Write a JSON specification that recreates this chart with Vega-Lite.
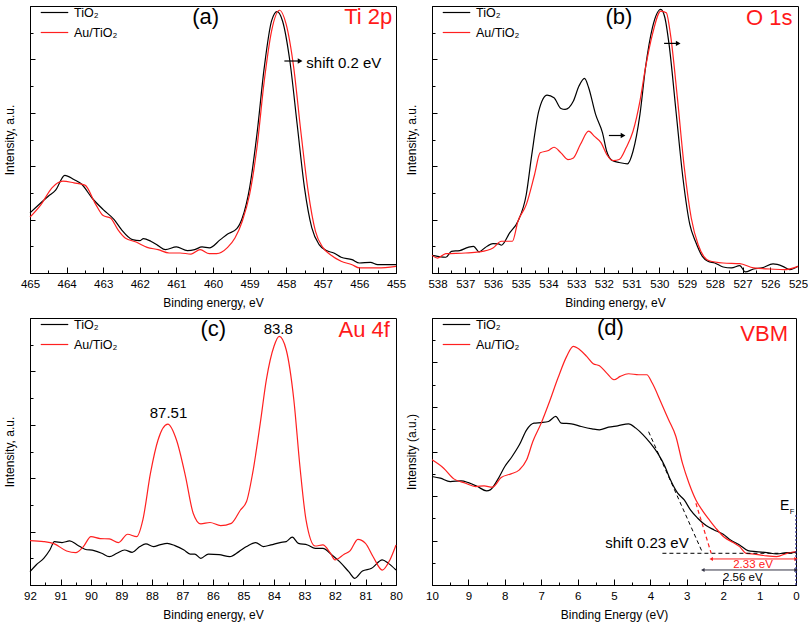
{
  "$schema": "https://vega.github.io/schema/vega-lite/v6.json",
  "padding": {"left": 3, "top": 5, "right": 5, "bottom": 5},
  "background": "white",
  "columns": 2,
  "spacing": {"row": 45, "column": 36},
  "bounds": "flush",
  "resolve": {"scale": {"color": "independent"}, "legend": {"color": "independent"}},
  "config": {
    "font": "Liberation Sans",
    "view": {"stroke": "black", "strokeWidth": 1},
    "axis": {"grid": false, "domainColor": "black", "tickColor": "black", "labelColor": "black", "titleColor": "black", "labelFontSize": 11.5, "titleFontSize": 12, "titleFontWeight": "normal", "labelFont": "Liberation Sans", "titleFont": "Liberation Sans", "labelFlush": false, "labelOverlap": false, "labelPadding": 11, "titlePadding": 8},
    "axisY": {"titlePadding": 13},
    "legend": {"orient": "none", "legendX": 18, "legendY": 0, "symbolType": "M-2.5,0H2.5", "symbolSize": 121, "symbolStrokeWidth": 1.2, "labelFontSize": 12.5, "labelFont": "Liberation Sans", "labelColor": "black", "rowPadding": 7, "padding": 0, "labelOffset": 13}
  },
  "datasets": {
    "a": [
      {"x":465,"y":22.5,"s":"TiO₂"},{"x":464.5,"y":28.75,"s":"TiO₂"},{"x":464.3,"y":31,"s":"TiO₂"},{"x":464.05,"y":36.6,"s":"TiO₂"},{"x":463.8,"y":35,"s":"TiO₂"},{"x":463.6,"y":33.4,"s":"TiO₂"},{"x":463.3,"y":28,"s":"TiO₂"},{"x":463.0,"y":23.75,"s":"TiO₂"},{"x":462.7,"y":20,"s":"TiO₂"},{"x":462.5,"y":16.25,"s":"TiO₂"},{"x":462.2,"y":12.5,"s":"TiO₂"},{"x":462.0,"y":12.1,"s":"TiO₂"},{"x":461.9,"y":12.9,"s":"TiO₂"},{"x":461.7,"y":11.9,"s":"TiO₂"},{"x":461.5,"y":10.25,"s":"TiO₂"},{"x":461.3,"y":8.75,"s":"TiO₂"},{"x":461.0,"y":9.75,"s":"TiO₂"},{"x":460.7,"y":8.4,"s":"TiO₂"},{"x":460.5,"y":8.75,"s":"TiO₂"},{"x":460.3,"y":9.75,"s":"TiO₂"},{"x":460.1,"y":9.4,"s":"TiO₂"},{"x":459.8,"y":12.5,"s":"TiO₂"},{"x":459.6,"y":14.6,"s":"TiO₂"},{"x":459.35,"y":16.6,"s":"TiO₂"},{"x":459.2,"y":20.6,"s":"TiO₂"},{"x":459.0,"y":31.9,"s":"TiO₂"},{"x":458.8,"y":51.9,"s":"TiO₂"},{"x":458.6,"y":76.9,"s":"TiO₂"},{"x":458.4,"y":94.4,"s":"TiO₂"},{"x":458.25,"y":97.9,"s":"TiO₂"},{"x":458.1,"y":94.4,"s":"TiO₂"},{"x":457.9,"y":79.4,"s":"TiO₂"},{"x":457.7,"y":55.6,"s":"TiO₂"},{"x":457.5,"y":31.9,"s":"TiO₂"},{"x":457.3,"y":16.9,"s":"TiO₂"},{"x":457.1,"y":10.6,"s":"TiO₂"},{"x":456.9,"y":8.4,"s":"TiO₂"},{"x":456.7,"y":7.5,"s":"TiO₂"},{"x":456.5,"y":5.9,"s":"TiO₂"},{"x":456.2,"y":5,"s":"TiO₂"},{"x":456.0,"y":3.75,"s":"TiO₂"},{"x":455.7,"y":4,"s":"TiO₂"},{"x":455.5,"y":3.1,"s":"TiO₂"},{"x":455.0,"y":3.1,"s":"TiO₂"},
      {"x":465,"y":20.9,"s":"Au/TiO₂"},{"x":464.7,"y":25.6,"s":"Au/TiO₂"},{"x":464.4,"y":31.9,"s":"Au/TiO₂"},{"x":464.1,"y":34.4,"s":"Au/TiO₂"},{"x":463.8,"y":33.75,"s":"Au/TiO₂"},{"x":463.5,"y":32.9,"s":"Au/TiO₂"},{"x":463.2,"y":25.6,"s":"Au/TiO₂"},{"x":463.0,"y":21.5,"s":"Au/TiO₂"},{"x":462.8,"y":20.6,"s":"Au/TiO₂"},{"x":462.6,"y":16.25,"s":"Au/TiO₂"},{"x":462.4,"y":13.1,"s":"Au/TiO₂"},{"x":462.1,"y":11.6,"s":"Au/TiO₂"},{"x":461.8,"y":9.6,"s":"Au/TiO₂"},{"x":461.5,"y":8.75,"s":"Au/TiO₂"},{"x":461.2,"y":7.5,"s":"Au/TiO₂"},{"x":460.9,"y":7.5,"s":"Au/TiO₂"},{"x":460.6,"y":7.1,"s":"Au/TiO₂"},{"x":460.35,"y":8.75,"s":"Au/TiO₂"},{"x":460.1,"y":7.25,"s":"Au/TiO₂"},{"x":459.9,"y":7.25,"s":"Au/TiO₂"},{"x":459.6,"y":9.6,"s":"Au/TiO₂"},{"x":459.4,"y":13.1,"s":"Au/TiO₂"},{"x":459.2,"y":19.4,"s":"Au/TiO₂"},{"x":459.0,"y":29.4,"s":"Au/TiO₂"},{"x":458.8,"y":46.9,"s":"Au/TiO₂"},{"x":458.6,"y":71.9,"s":"Au/TiO₂"},{"x":458.4,"y":90.6,"s":"Au/TiO₂"},{"x":458.18,"y":98.4,"s":"Au/TiO₂"},{"x":458.0,"y":93.1,"s":"Au/TiO₂"},{"x":457.8,"y":77.5,"s":"Au/TiO₂"},{"x":457.6,"y":53,"s":"Au/TiO₂"},{"x":457.4,"y":30.6,"s":"Au/TiO₂"},{"x":457.2,"y":15.6,"s":"Au/TiO₂"},{"x":457.0,"y":9.6,"s":"Au/TiO₂"},{"x":456.8,"y":6.9,"s":"Au/TiO₂"},{"x":456.5,"y":4.4,"s":"Au/TiO₂"},{"x":456.2,"y":3.1,"s":"Au/TiO₂"},{"x":456.0,"y":1.9,"s":"Au/TiO₂"},{"x":455.5,"y":1.9,"s":"Au/TiO₂"},{"x":455.0,"y":2.5,"s":"Au/TiO₂"}
    ],
    "b": [
      {"x":538.2,"y":6.6,"s":"TiO₂"},{"x":538,"y":6.25,"s":"TiO₂"},{"x":537.7,"y":5.9,"s":"TiO₂"},{"x":537.5,"y":8.1,"s":"TiO₂"},{"x":537.2,"y":8.4,"s":"TiO₂"},{"x":536.9,"y":9.6,"s":"TiO₂"},{"x":536.7,"y":10,"s":"TiO₂"},{"x":536.5,"y":7.9,"s":"TiO₂"},{"x":536.3,"y":9.4,"s":"TiO₂"},{"x":536.0,"y":11,"s":"TiO₂"},{"x":535.8,"y":10.9,"s":"TiO₂"},{"x":535.7,"y":10.4,"s":"TiO₂"},{"x":535.4,"y":15,"s":"TiO₂"},{"x":535.1,"y":19.4,"s":"TiO₂"},{"x":534.8,"y":29.4,"s":"TiO₂"},{"x":534.6,"y":44.4,"s":"TiO₂"},{"x":534.35,"y":60.6,"s":"TiO₂"},{"x":534.05,"y":66.6,"s":"TiO₂"},{"x":533.8,"y":65.6,"s":"TiO₂"},{"x":533.55,"y":61.6,"s":"TiO₂"},{"x":533.4,"y":61.25,"s":"TiO₂"},{"x":533.1,"y":64.4,"s":"TiO₂"},{"x":532.9,"y":70,"s":"TiO₂"},{"x":532.7,"y":72.9,"s":"TiO₂"},{"x":532.55,"y":69.4,"s":"TiO₂"},{"x":532.3,"y":59.4,"s":"TiO₂"},{"x":532.05,"y":52.5,"s":"TiO₂"},{"x":531.9,"y":45.6,"s":"TiO₂"},{"x":531.7,"y":42.1,"s":"TiO₂"},{"x":531.45,"y":41.4,"s":"TiO₂"},{"x":531.15,"y":40.9,"s":"TiO₂"},{"x":530.95,"y":45.6,"s":"TiO₂"},{"x":530.7,"y":59.4,"s":"TiO₂"},{"x":530.5,"y":76.9,"s":"TiO₂"},{"x":530.25,"y":91.9,"s":"TiO₂"},{"x":529.95,"y":98.75,"s":"TiO₂"},{"x":529.8,"y":95.6,"s":"TiO₂"},{"x":529.65,"y":85.6,"s":"TiO₂"},{"x":529.4,"y":60.6,"s":"TiO₂"},{"x":529.15,"y":35.6,"s":"TiO₂"},{"x":528.9,"y":18.1,"s":"TiO₂"},{"x":528.7,"y":11.9,"s":"TiO₂"},{"x":528.45,"y":6.25,"s":"TiO₂"},{"x":528.25,"y":4.4,"s":"TiO₂"},{"x":528.0,"y":3.75,"s":"TiO₂"},{"x":527.7,"y":2.25,"s":"TiO₂"},{"x":527.4,"y":1.9,"s":"TiO₂"},{"x":527.1,"y":2.75,"s":"TiO₂"},{"x":526.9,"y":0.4,"s":"TiO₂"},{"x":526.6,"y":1.5,"s":"TiO₂"},{"x":526.3,"y":1.9,"s":"TiO₂"},{"x":525.9,"y":3.4,"s":"TiO₂"},{"x":525.55,"y":2.5,"s":"TiO₂"},{"x":525.3,"y":1.25,"s":"TiO₂"},{"x":525.0,"y":2.5,"s":"TiO₂"},
      {"x":538.2,"y":6.6,"s":"Au/TiO₂"},{"x":538,"y":5.6,"s":"Au/TiO₂"},{"x":537.7,"y":7.25,"s":"Au/TiO₂"},{"x":537,"y":7.5,"s":"Au/TiO₂"},{"x":536.5,"y":7.9,"s":"Au/TiO₂"},{"x":536,"y":9.4,"s":"Au/TiO₂"},{"x":535.7,"y":11.9,"s":"Au/TiO₂"},{"x":535.3,"y":11.9,"s":"Au/TiO₂"},{"x":535.1,"y":19.4,"s":"Au/TiO₂"},{"x":534.8,"y":25.6,"s":"Au/TiO₂"},{"x":534.5,"y":36.9,"s":"Au/TiO₂"},{"x":534.3,"y":45,"s":"Au/TiO₂"},{"x":534.0,"y":45.9,"s":"Au/TiO₂"},{"x":533.8,"y":47.1,"s":"Au/TiO₂"},{"x":533.55,"y":45,"s":"Au/TiO₂"},{"x":533.3,"y":42.5,"s":"Au/TiO₂"},{"x":533.1,"y":43.1,"s":"Au/TiO₂"},{"x":532.85,"y":48.1,"s":"Au/TiO₂"},{"x":532.55,"y":53.1,"s":"Au/TiO₂"},{"x":532.35,"y":51.25,"s":"Au/TiO₂"},{"x":532.1,"y":48.75,"s":"Au/TiO₂"},{"x":531.9,"y":44.4,"s":"Au/TiO₂"},{"x":531.65,"y":42.1,"s":"Au/TiO₂"},{"x":531.45,"y":42.5,"s":"Au/TiO₂"},{"x":531.2,"y":46.9,"s":"Au/TiO₂"},{"x":530.95,"y":53.1,"s":"Au/TiO₂"},{"x":530.7,"y":64.4,"s":"Au/TiO₂"},{"x":530.5,"y":76.9,"s":"Au/TiO₂"},{"x":530.25,"y":89.4,"s":"Au/TiO₂"},{"x":529.95,"y":98.1,"s":"Au/TiO₂"},{"x":529.75,"y":97.5,"s":"Au/TiO₂"},{"x":529.6,"y":89.4,"s":"Au/TiO₂"},{"x":529.35,"y":65.6,"s":"Au/TiO₂"},{"x":529.1,"y":39.4,"s":"Au/TiO₂"},{"x":528.85,"y":20.6,"s":"Au/TiO₂"},{"x":528.6,"y":10.6,"s":"Au/TiO₂"},{"x":528.4,"y":6.25,"s":"Au/TiO₂"},{"x":528.2,"y":4.6,"s":"Au/TiO₂"},{"x":527.7,"y":3.75,"s":"Au/TiO₂"},{"x":527.1,"y":3.5,"s":"Au/TiO₂"},{"x":526.6,"y":1.9,"s":"Au/TiO₂"},{"x":526.0,"y":1.5,"s":"Au/TiO₂"},{"x":525.5,"y":1.25,"s":"Au/TiO₂"},{"x":525.0,"y":2.5,"s":"Au/TiO₂"}
    ],
    "c": [
      {"x":92,"y":5,"s":"TiO₂"},{"x":91.8,"y":7.5,"s":"TiO₂"},{"x":91.55,"y":10,"s":"TiO₂"},{"x":91.35,"y":13.1,"s":"TiO₂"},{"x":91.2,"y":16.25,"s":"TiO₂"},{"x":90.95,"y":15.9,"s":"TiO₂"},{"x":90.7,"y":16.5,"s":"TiO₂"},{"x":90.45,"y":15,"s":"TiO₂"},{"x":90.2,"y":13.4,"s":"TiO₂"},{"x":89.9,"y":12.9,"s":"TiO₂"},{"x":89.65,"y":11.9,"s":"TiO₂"},{"x":89.4,"y":10.6,"s":"TiO₂"},{"x":89.15,"y":11.9,"s":"TiO₂"},{"x":88.9,"y":13.1,"s":"TiO₂"},{"x":88.65,"y":12.25,"s":"TiO₂"},{"x":88.4,"y":14.4,"s":"TiO₂"},{"x":88.2,"y":15.4,"s":"TiO₂"},{"x":87.95,"y":14.4,"s":"TiO₂"},{"x":87.75,"y":15,"s":"TiO₂"},{"x":87.5,"y":15.6,"s":"TiO₂"},{"x":87.25,"y":14.75,"s":"TiO₂"},{"x":86.95,"y":13.1,"s":"TiO₂"},{"x":86.75,"y":11.6,"s":"TiO₂"},{"x":86.6,"y":11.6,"s":"TiO₂"},{"x":86.4,"y":10,"s":"TiO₂"},{"x":86.15,"y":11.6,"s":"TiO₂"},{"x":85.8,"y":11.4,"s":"TiO₂"},{"x":85.45,"y":10.6,"s":"TiO₂"},{"x":85.15,"y":12.5,"s":"TiO₂"},{"x":84.9,"y":14.4,"s":"TiO₂"},{"x":84.6,"y":15.9,"s":"TiO₂"},{"x":84.35,"y":14.4,"s":"TiO₂"},{"x":84.1,"y":15,"s":"TiO₂"},{"x":83.8,"y":15.9,"s":"TiO₂"},{"x":83.6,"y":16.25,"s":"TiO₂"},{"x":83.4,"y":17.9,"s":"TiO₂"},{"x":83.2,"y":15.6,"s":"TiO₂"},{"x":82.9,"y":15,"s":"TiO₂"},{"x":82.65,"y":13.75,"s":"TiO₂"},{"x":82.4,"y":13.75,"s":"TiO₂"},{"x":82.1,"y":11.25,"s":"TiO₂"},{"x":81.85,"y":8.75,"s":"TiO₂"},{"x":81.55,"y":5,"s":"TiO₂"},{"x":81.35,"y":2.5,"s":"TiO₂"},{"x":81.1,"y":5.25,"s":"TiO₂"},{"x":80.8,"y":6.25,"s":"TiO₂"},{"x":80.45,"y":9.4,"s":"TiO₂"},{"x":80.25,"y":8.1,"s":"TiO₂"},{"x":80,"y":5.6,"s":"TiO₂"},
      {"x":92,"y":16.6,"s":"Au/TiO₂"},{"x":91.55,"y":16.25,"s":"Au/TiO₂"},{"x":91.2,"y":15.4,"s":"Au/TiO₂"},{"x":90.8,"y":12.75,"s":"Au/TiO₂"},{"x":90.5,"y":12.1,"s":"Au/TiO₂"},{"x":90.25,"y":14.4,"s":"Au/TiO₂"},{"x":90.0,"y":18.1,"s":"Au/TiO₂"},{"x":89.7,"y":17.4,"s":"Au/TiO₂"},{"x":89.4,"y":17.25,"s":"Au/TiO₂"},{"x":89.1,"y":15.9,"s":"Au/TiO₂"},{"x":88.8,"y":19,"s":"Au/TiO₂"},{"x":88.5,"y":18.1,"s":"Au/TiO₂"},{"x":88.3,"y":24.4,"s":"Au/TiO₂"},{"x":88.05,"y":41.9,"s":"Au/TiO₂"},{"x":87.8,"y":54.4,"s":"Au/TiO₂"},{"x":87.48,"y":60.25,"s":"Au/TiO₂"},{"x":87.2,"y":54.4,"s":"Au/TiO₂"},{"x":86.9,"y":40.6,"s":"Au/TiO₂"},{"x":86.65,"y":26.9,"s":"Au/TiO₂"},{"x":86.4,"y":22.9,"s":"Au/TiO₂"},{"x":86.1,"y":23.4,"s":"Au/TiO₂"},{"x":85.75,"y":22.25,"s":"Au/TiO₂"},{"x":85.4,"y":23.1,"s":"Au/TiO₂"},{"x":85.1,"y":28.1,"s":"Au/TiO₂"},{"x":84.9,"y":31.25,"s":"Au/TiO₂"},{"x":84.7,"y":41.9,"s":"Au/TiO₂"},{"x":84.45,"y":60.6,"s":"Au/TiO₂"},{"x":84.25,"y":76.9,"s":"Au/TiO₂"},{"x":84.0,"y":89.4,"s":"Au/TiO₂"},{"x":83.83,"y":93.1,"s":"Au/TiO₂"},{"x":83.6,"y":88.1,"s":"Au/TiO₂"},{"x":83.35,"y":69.4,"s":"Au/TiO₂"},{"x":83.15,"y":44.4,"s":"Au/TiO₂"},{"x":82.95,"y":24.4,"s":"Au/TiO₂"},{"x":82.65,"y":14.6,"s":"Au/TiO₂"},{"x":82.4,"y":15,"s":"Au/TiO₂"},{"x":82.15,"y":11.9,"s":"Au/TiO₂"},{"x":82.0,"y":9.4,"s":"Au/TiO₂"},{"x":81.7,"y":11.5,"s":"Au/TiO₂"},{"x":81.5,"y":12.9,"s":"Au/TiO₂"},{"x":81.25,"y":17.1,"s":"Au/TiO₂"},{"x":81.0,"y":15.6,"s":"Au/TiO₂"},{"x":80.75,"y":10.6,"s":"Au/TiO₂"},{"x":80.45,"y":5.6,"s":"Au/TiO₂"},{"x":80.2,"y":9.4,"s":"Au/TiO₂"},{"x":80,"y":15,"s":"Au/TiO₂"}
    ],
    "d": [
      {"x":10,"y":48.75,"s":"TiO₂"},{"x":9.77,"y":48,"s":"TiO₂"},{"x":9.5,"y":46.5,"s":"TiO₂"},{"x":9.2,"y":46.8,"s":"TiO₂"},{"x":9.0,"y":46,"s":"TiO₂"},{"x":8.75,"y":44.25,"s":"TiO₂"},{"x":8.5,"y":42.3,"s":"TiO₂"},{"x":8.4,"y":42.75,"s":"TiO₂"},{"x":8.2,"y":47.25,"s":"TiO₂"},{"x":8.0,"y":53.25,"s":"TiO₂"},{"x":7.8,"y":57.75,"s":"TiO₂"},{"x":7.6,"y":63,"s":"TiO₂"},{"x":7.4,"y":69.75,"s":"TiO₂"},{"x":7.2,"y":72.75,"s":"TiO₂"},{"x":7.0,"y":73,"s":"TiO₂"},{"x":6.8,"y":73.5,"s":"TiO₂"},{"x":6.6,"y":75.75,"s":"TiO₂"},{"x":6.45,"y":72.75,"s":"TiO₂"},{"x":6.17,"y":72.45,"s":"TiO₂"},{"x":5.9,"y":71.25,"s":"TiO₂"},{"x":5.6,"y":70.2,"s":"TiO₂"},{"x":5.4,"y":69.75,"s":"TiO₂"},{"x":5.15,"y":70.95,"s":"TiO₂"},{"x":4.9,"y":71.55,"s":"TiO₂"},{"x":4.6,"y":72.45,"s":"TiO₂"},{"x":4.4,"y":70.5,"s":"TiO₂"},{"x":4.2,"y":67.5,"s":"TiO₂"},{"x":4.0,"y":63.75,"s":"TiO₂"},{"x":3.8,"y":59.25,"s":"TiO₂"},{"x":3.6,"y":53.25,"s":"TiO₂"},{"x":3.45,"y":47.25,"s":"TiO₂"},{"x":3.25,"y":41.25,"s":"TiO₂"},{"x":3.07,"y":38.25,"s":"TiO₂"},{"x":2.9,"y":33.75,"s":"TiO₂"},{"x":2.7,"y":30,"s":"TiO₂"},{"x":2.47,"y":26.7,"s":"TiO₂"},{"x":2.25,"y":24.75,"s":"TiO₂"},{"x":2.0,"y":22.8,"s":"TiO₂"},{"x":1.8,"y":20.25,"s":"TiO₂"},{"x":1.55,"y":18,"s":"TiO₂"},{"x":1.32,"y":15.45,"s":"TiO₂"},{"x":1.1,"y":15,"s":"TiO₂"},{"x":0.8,"y":14.55,"s":"TiO₂"},{"x":0.53,"y":13.95,"s":"TiO₂"},{"x":0.25,"y":14.55,"s":"TiO₂"},{"x":0,"y":14.7,"s":"TiO₂"},
      {"x":10,"y":56.25,"s":"Au/TiO₂"},{"x":9.68,"y":52.5,"s":"Au/TiO₂"},{"x":9.4,"y":47.7,"s":"Au/TiO₂"},{"x":9.08,"y":45.75,"s":"Au/TiO₂"},{"x":8.8,"y":44.25,"s":"Au/TiO₂"},{"x":8.57,"y":44.55,"s":"Au/TiO₂"},{"x":8.34,"y":43.95,"s":"Au/TiO₂"},{"x":8.1,"y":48.3,"s":"Au/TiO₂"},{"x":7.83,"y":49.95,"s":"Au/TiO₂"},{"x":7.6,"y":51.75,"s":"Au/TiO₂"},{"x":7.4,"y":56.25,"s":"Au/TiO₂"},{"x":7.23,"y":64.5,"s":"Au/TiO₂"},{"x":7.0,"y":72.75,"s":"Au/TiO₂"},{"x":6.77,"y":82.5,"s":"Au/TiO₂"},{"x":6.54,"y":93,"s":"Au/TiO₂"},{"x":6.3,"y":102.75,"s":"Au/TiO₂"},{"x":6.12,"y":107.25,"s":"Au/TiO₂"},{"x":5.94,"y":105.75,"s":"Au/TiO₂"},{"x":5.75,"y":102.75,"s":"Au/TiO₂"},{"x":5.57,"y":99.45,"s":"Au/TiO₂"},{"x":5.4,"y":98.55,"s":"Au/TiO₂"},{"x":5.2,"y":95.25,"s":"Au/TiO₂"},{"x":5.0,"y":92.25,"s":"Au/TiO₂"},{"x":4.83,"y":93.75,"s":"Au/TiO₂"},{"x":4.6,"y":94.95,"s":"Au/TiO₂"},{"x":4.32,"y":94.5,"s":"Au/TiO₂"},{"x":4.1,"y":94.5,"s":"Au/TiO₂"},{"x":3.95,"y":90.75,"s":"Au/TiO₂"},{"x":3.72,"y":82.5,"s":"Au/TiO₂"},{"x":3.5,"y":74.25,"s":"Au/TiO₂"},{"x":3.3,"y":66.75,"s":"Au/TiO₂"},{"x":3.12,"y":54.75,"s":"Au/TiO₂"},{"x":2.94,"y":45.75,"s":"Au/TiO₂"},{"x":2.75,"y":38.25,"s":"Au/TiO₂"},{"x":2.57,"y":33.45,"s":"Au/TiO₂"},{"x":2.38,"y":29.25,"s":"Au/TiO₂"},{"x":2.2,"y":25.5,"s":"Au/TiO₂"},{"x":1.97,"y":21.45,"s":"Au/TiO₂"},{"x":1.74,"y":19.2,"s":"Au/TiO₂"},{"x":1.55,"y":17.25,"s":"Au/TiO₂"},{"x":1.37,"y":14.25,"s":"Au/TiO₂"},{"x":1.1,"y":13.8,"s":"Au/TiO₂"},{"x":0.8,"y":13.05,"s":"Au/TiO₂"},{"x":0.53,"y":12.75,"s":"Au/TiO₂"},{"x":0.25,"y":14.25,"s":"Au/TiO₂"},{"x":0,"y":15,"s":"Au/TiO₂"}
    ],
    "big": [
      {"p":"a","x":460.2,"y":96,"t":"(a)"},{"p":"b","x":531.46,"y":96,"t":"(b)"},{"p":"c","x":85.99,"y":96,"t":"(c)"},{"p":"d","x":5.1,"y":115.5,"t":"(d)"}
    ],
    "elem": [
      {"p":"a","x":455.1,"y":96,"t":"Ti 2p"},{"p":"b","x":525.2,"y":95.6,"t":"O 1s"},{"p":"c","x":80.2,"y":95.6,"t":"Au 4f"},{"p":"d","x":0.22,"y":113,"t":"VBM"}
    ],
    "peak": [
      {"p":"c","x":87.46,"y":64.4,"t":"87.51"},{"p":"c","x":83.86,"y":96,"t":"83.8"}
    ],
    "shift": [
      {"p":"a","x":457.45,"y":78.75,"t":"shift 0.2 eV"},{"p":"d","x":5.24,"y":19,"t":"shift 0.23 eV"}
    ],
    "arrow": [
      {"p":"a","x":458.05,"x2":457.62,"y":79.4},{"p":"b","x":529.83,"x2":529.32,"y":86},{"p":"b","x":531.82,"x2":531.31,"y":51.5}
    ],
    "dashK": [
      {"g":"base","x":3.67,"y":14.25},{"g":"base","x":0,"y":14.25},{"g":"tan","x":4.05,"y":68.9},{"g":"tan","x":2.56,"y":14.25}
    ],
    "dashR": [
      {"g":"tan","x":2.75,"y":36.75},{"g":"tan","x":2.33,"y":14.25}
    ],
    "gapR": [{"x":2.33,"x2":0,"y":11.7,"t":"2.33 eV","tx":1.18,"ty":9}],
    "gapK": [{"x":2.56,"x2":0,"y":6.75,"t":"2.56 eV","tx":1.46,"ty":3.3}],
    "ef": [{"x":0,"y":0,"y2":32.4}]
  },
  "concat": [
    {
      "width": 366, "height": 267,
      "resolve": {"axis": {"x": "independent", "y": "independent"}},
      "layer": [
        {
          "data": {"name": "a"},
          "mark": {"type": "line", "interpolate": "monotone", "strokeWidth": 1.2},
          "encoding": {
            "x": {"field": "x", "type": "quantitative", "scale": {"domain": [455, 465], "reverse": true, "nice": false, "zero": false},
                  "axis": {"title": "Binding energy, eV", "orient": "bottom", "values": [455,456,457,458,459,460,461,462,463,464,465], "tickSize": -6}},
            "y": {"field": "y", "type": "quantitative", "scale": {"domain": [0, 100], "nice": false},
                  "axis": {"title": "Intensity, a.u.", "orient": "left", "labels": false, "values": [0,20,40,60,80,100], "tickSize": -5}},
            "color": {"field": "s", "type": "nominal", "scale": {"domain": ["TiO₂", "Au/TiO₂"], "range": ["#000000", "#ff2020"]}, "legend": {"title": null}}
          }
        },
        {"data": {"name": "big"}, "transform": [{"filter": "datum.p == 'a'"}], "mark": {"type": "text", "fontSize": 22, "color": "black", "baseline": "middle"},
         "encoding": {"x": {"field": "x", "type": "quantitative", "axis": {"title": null, "orient": "bottom", "labels": false, "domain": false, "values": [455.5,456.5,457.5,458.5,459.5,460.5,461.5,462.5,463.5,464.5], "tickSize": -3}},
                      "y": {"field": "y", "type": "quantitative", "axis": {"title": null, "orient": "left", "labels": false, "domain": false, "values": [10,30,50,70,90], "tickSize": -3}}, "text": {"field": "t"}}},
        {"data": {"name": "elem"}, "transform": [{"filter": "datum.p == 'a'"}], "mark": {"type": "text", "fontSize": 22, "color": "#ff1a1a", "align": "right", "baseline": "middle"}, "encoding": {"x": {"field": "x", "type": "quantitative", "axis": null}, "y": {"field": "y", "type": "quantitative", "axis": null}, "text": {"field": "t"}}},
        {"data": {"name": "shift"}, "transform": [{"filter": "datum.p == 'a'"}], "mark": {"type": "text", "fontSize": 15, "color": "black", "align": "left", "baseline": "middle"}, "encoding": {"x": {"field": "x", "type": "quantitative", "axis": null}, "y": {"field": "y", "type": "quantitative", "axis": null}, "text": {"field": "t"}}},
        {"data": {"name": "arrow"}, "transform": [{"filter": "datum.p == 'a'"}], "mark": {"type": "rule", "color": "black", "strokeWidth": 1.2}, "encoding": {"x": {"field": "x", "type": "quantitative", "axis": null}, "x2": {"field": "x2"}, "y": {"field": "y", "type": "quantitative", "axis": null}}},
        {"data": {"name": "arrow"}, "transform": [{"filter": "datum.p == 'a'"}], "mark": {"type": "point", "shape": "triangle-right", "filled": true, "color": "black", "size": 30, "opacity": 1}, "encoding": {"x": {"field": "x2", "type": "quantitative", "axis": null}, "y": {"field": "y", "type": "quantitative", "axis": null}}}
      ]
    },
    {
      "width": 366, "height": 267,
      "resolve": {"axis": {"x": "independent", "y": "independent"}},
      "layer": [
        {
          "data": {"name": "b"},
          "mark": {"type": "line", "interpolate": "monotone", "strokeWidth": 1.2},
          "encoding": {
            "x": {"field": "x", "type": "quantitative", "scale": {"domain": [525, 538.2], "reverse": true, "nice": false, "zero": false},
                  "axis": {"title": "Binding energy, eV", "orient": "bottom", "values": [525,526,527,528,529,530,531,532,533,534,535,536,537,538], "tickSize": -6}},
            "y": {"field": "y", "type": "quantitative", "scale": {"domain": [0, 100], "nice": false},
                  "axis": {"title": "Intensity, a.u.", "orient": "left", "labels": false, "values": [0,20,40,60,80,100], "tickSize": -5}},
            "color": {"field": "s", "type": "nominal", "scale": {"domain": ["TiO₂", "Au/TiO₂"], "range": ["#000000", "#ff2020"]}, "legend": {"title": null}}
          }
        },
        {"data": {"name": "big"}, "transform": [{"filter": "datum.p == 'b'"}], "mark": {"type": "text", "fontSize": 22, "color": "black", "baseline": "middle"},
         "encoding": {"x": {"field": "x", "type": "quantitative", "axis": {"title": null, "orient": "bottom", "labels": false, "domain": false, "values": [525.5,526.5,527.5,528.5,529.5,530.5,531.5,532.5,533.5,534.5,535.5,536.5,537.5], "tickSize": -3}},
                      "y": {"field": "y", "type": "quantitative", "axis": {"title": null, "orient": "left", "labels": false, "domain": false, "values": [10,30,50,70,90], "tickSize": -3}}, "text": {"field": "t"}}},
        {"data": {"name": "elem"}, "transform": [{"filter": "datum.p == 'b'"}], "mark": {"type": "text", "fontSize": 22, "color": "#ff1a1a", "align": "right", "baseline": "middle"}, "encoding": {"x": {"field": "x", "type": "quantitative", "axis": null}, "y": {"field": "y", "type": "quantitative", "axis": null}, "text": {"field": "t"}}},
        {"data": {"name": "arrow"}, "transform": [{"filter": "datum.p == 'b'"}], "mark": {"type": "rule", "color": "black", "strokeWidth": 1.2}, "encoding": {"x": {"field": "x", "type": "quantitative", "axis": null}, "x2": {"field": "x2"}, "y": {"field": "y", "type": "quantitative", "axis": null}}},
        {"data": {"name": "arrow"}, "transform": [{"filter": "datum.p == 'b'"}], "mark": {"type": "point", "shape": "triangle-right", "filled": true, "color": "black", "size": 30, "opacity": 1}, "encoding": {"x": {"field": "x2", "type": "quantitative", "axis": null}, "y": {"field": "y", "type": "quantitative", "axis": null}}}
      ]
    },
    {
      "width": 366, "height": 267,
      "resolve": {"axis": {"x": "independent", "y": "independent"}},
      "layer": [
        {
          "data": {"name": "c"},
          "mark": {"type": "line", "interpolate": "monotone", "strokeWidth": 1.2},
          "encoding": {
            "x": {"field": "x", "type": "quantitative", "scale": {"domain": [80, 92], "reverse": true, "nice": false, "zero": false},
                  "axis": {"title": "Binding energy, eV", "orient": "bottom", "values": [80,81,82,83,84,85,86,87,88,89,90,91,92], "tickSize": -6}},
            "y": {"field": "y", "type": "quantitative", "scale": {"domain": [0, 100], "nice": false},
                  "axis": {"title": "Intensity, a.u.", "orient": "left", "labels": false, "values": [0,20,40,60,80,100], "tickSize": -5}},
            "color": {"field": "s", "type": "nominal", "scale": {"domain": ["TiO₂", "Au/TiO₂"], "range": ["#000000", "#ff2020"]}, "legend": {"title": null}}
          }
        },
        {"data": {"name": "big"}, "transform": [{"filter": "datum.p == 'c'"}], "mark": {"type": "text", "fontSize": 22, "color": "black", "baseline": "middle"},
         "encoding": {"x": {"field": "x", "type": "quantitative", "axis": {"title": null, "orient": "bottom", "labels": false, "domain": false, "values": [80.5,81.5,82.5,83.5,84.5,85.5,86.5,87.5,88.5,89.5,90.5,91.5], "tickSize": -3}},
                      "y": {"field": "y", "type": "quantitative", "axis": {"title": null, "orient": "left", "labels": false, "domain": false, "values": [10,30,50,70,90], "tickSize": -3}}, "text": {"field": "t"}}},
        {"data": {"name": "elem"}, "transform": [{"filter": "datum.p == 'c'"}], "mark": {"type": "text", "fontSize": 22, "color": "#ff1a1a", "align": "right", "baseline": "middle"}, "encoding": {"x": {"field": "x", "type": "quantitative", "axis": null}, "y": {"field": "y", "type": "quantitative", "axis": null}, "text": {"field": "t"}}},
        {"data": {"name": "peak"}, "transform": [{"filter": "datum.p == 'c'"}], "mark": {"type": "text", "fontSize": 15, "color": "black", "baseline": "middle"}, "encoding": {"x": {"field": "x", "type": "quantitative", "axis": null}, "y": {"field": "y", "type": "quantitative", "axis": null}, "text": {"field": "t"}}}
      ]
    },
    {
      "width": 364, "height": 267,
      "resolve": {"axis": {"x": "independent", "y": "independent"}},
      "layer": [
        {
          "data": {"name": "d"},
          "mark": {"type": "line", "interpolate": "monotone", "strokeWidth": 1.2},
          "encoding": {
            "x": {"field": "x", "type": "quantitative", "scale": {"domain": [0, 10], "reverse": true, "nice": false, "zero": false},
                  "axis": {"title": "Binding Energy (eV)", "orient": "bottom", "values": [0,1,2,3,4,5,6,7,8,9,10], "tickSize": -6}},
            "y": {"field": "y", "type": "quantitative", "scale": {"domain": [0, 120], "nice": false},
                  "axis": {"title": "Intensity (a.u.)", "orient": "left", "labels": false, "values": [0,20,40,60,80,100,120], "tickSize": -5}},
            "color": {"field": "s", "type": "nominal", "scale": {"domain": ["TiO₂", "Au/TiO₂"], "range": ["#000000", "#ff2020"]}, "legend": {"title": null}}
          }
        },
        {"data": {"name": "big"}, "transform": [{"filter": "datum.p == 'd'"}], "mark": {"type": "text", "fontSize": 22, "color": "black", "baseline": "middle"},
         "encoding": {"x": {"field": "x", "type": "quantitative", "axis": {"title": null, "orient": "bottom", "labels": false, "domain": false, "values": [0.5,1.5,2.5,3.5,4.5,5.5,6.5,7.5,8.5,9.5], "tickSize": -3}},
                      "y": {"field": "y", "type": "quantitative", "axis": {"title": null, "orient": "left", "labels": false, "domain": false, "values": [10,30,50,70,90,110], "tickSize": -3}}, "text": {"field": "t"}}},
        {"data": {"name": "dashK"}, "mark": {"type": "line", "color": "black", "strokeDash": [4, 3], "strokeWidth": 1}, "encoding": {"x": {"field": "x", "type": "quantitative", "axis": null}, "y": {"field": "y", "type": "quantitative", "axis": null}, "detail": {"field": "g"}}},
        {"data": {"name": "dashR"}, "mark": {"type": "line", "color": "#ff2020", "strokeDash": [4, 3], "strokeWidth": 1.2}, "encoding": {"x": {"field": "x", "type": "quantitative", "axis": null}, "y": {"field": "y", "type": "quantitative", "axis": null}, "detail": {"field": "g"}}},
        {"data": {"name": "gapR"}, "mark": {"type": "rule", "color": "#ff2020", "strokeWidth": 1}, "encoding": {"x": {"field": "x", "type": "quantitative", "axis": null}, "x2": {"field": "x2"}, "y": {"field": "y", "type": "quantitative", "axis": null}}},
        {"data": {"name": "gapR"}, "mark": {"type": "point", "shape": "triangle-left", "filled": true, "color": "#ff2020", "size": 16, "opacity": 1}, "encoding": {"x": {"field": "x", "type": "quantitative", "axis": null}, "y": {"field": "y", "type": "quantitative", "axis": null}}},
        {"data": {"name": "gapR"}, "mark": {"type": "point", "shape": "triangle-right", "filled": true, "color": "#ff2020", "size": 16, "opacity": 1}, "encoding": {"x": {"field": "x2", "type": "quantitative", "axis": null}, "y": {"field": "y", "type": "quantitative", "axis": null}}},
        {"data": {"name": "gapR"}, "mark": {"type": "text", "color": "#ff2020", "fontSize": 11.5, "baseline": "middle"}, "encoding": {"x": {"field": "tx", "type": "quantitative", "axis": null}, "y": {"field": "ty", "type": "quantitative", "axis": null}, "text": {"field": "t"}}},
        {"data": {"name": "gapK"}, "mark": {"type": "rule", "color": "#333344", "strokeWidth": 1}, "encoding": {"x": {"field": "x", "type": "quantitative", "axis": null}, "x2": {"field": "x2"}, "y": {"field": "y", "type": "quantitative", "axis": null}}},
        {"data": {"name": "gapK"}, "mark": {"type": "point", "shape": "triangle-left", "filled": true, "color": "#333344", "size": 16, "opacity": 1}, "encoding": {"x": {"field": "x", "type": "quantitative", "axis": null}, "y": {"field": "y", "type": "quantitative", "axis": null}}},
        {"data": {"name": "gapK"}, "mark": {"type": "point", "shape": "triangle-right", "filled": true, "color": "#333344", "size": 16, "opacity": 1}, "encoding": {"x": {"field": "x2", "type": "quantitative", "axis": null}, "y": {"field": "y", "type": "quantitative", "axis": null}}},
        {"data": {"name": "gapK"}, "mark": {"type": "text", "color": "black", "fontSize": 11.5, "baseline": "middle"}, "encoding": {"x": {"field": "tx", "type": "quantitative", "axis": null}, "y": {"field": "ty", "type": "quantitative", "axis": null}, "text": {"field": "t"}}},
        {"data": {"name": "ef"}, "mark": {"type": "rule", "color": "#2b2b8f", "strokeDash": [2, 2], "strokeWidth": 1.2}, "encoding": {"x": {"field": "x", "type": "quantitative", "axis": null}, "y": {"field": "y", "type": "quantitative", "axis": null}, "y2": {"field": "y2"}}},
        {"data": {"name": "elem"}, "transform": [{"filter": "datum.p == 'd'"}], "mark": {"type": "text", "fontSize": 22, "color": "#ff1a1a", "align": "right", "baseline": "middle"}, "encoding": {"x": {"field": "x", "type": "quantitative", "axis": null}, "y": {"field": "y", "type": "quantitative", "axis": null}, "text": {"field": "t"}}},
        {"data": {"name": "shift"}, "transform": [{"filter": "datum.p == 'd'"}], "mark": {"type": "text", "fontSize": 15, "color": "black", "align": "left", "baseline": "middle"}, "encoding": {"x": {"field": "x", "type": "quantitative", "axis": null}, "y": {"field": "y", "type": "quantitative", "axis": null}, "text": {"field": "t"}}},
        {"data": {"values": [{"x": 0.31, "y": 35.6, "t": "E"}]}, "mark": {"type": "text", "fontSize": 14, "color": "black", "baseline": "middle"}, "encoding": {"x": {"field": "x", "type": "quantitative", "axis": null}, "y": {"field": "y", "type": "quantitative", "axis": null}, "text": {"field": "t"}}},
        {"data": {"values": [{"x": 0.11, "y": 32.8, "t": "F"}]}, "mark": {"type": "text", "fontSize": 7.5, "color": "black", "baseline": "middle"}, "encoding": {"x": {"field": "x", "type": "quantitative", "axis": null}, "y": {"field": "y", "type": "quantitative", "axis": null}, "text": {"field": "t"}}}
      ]
    }
  ]
}
